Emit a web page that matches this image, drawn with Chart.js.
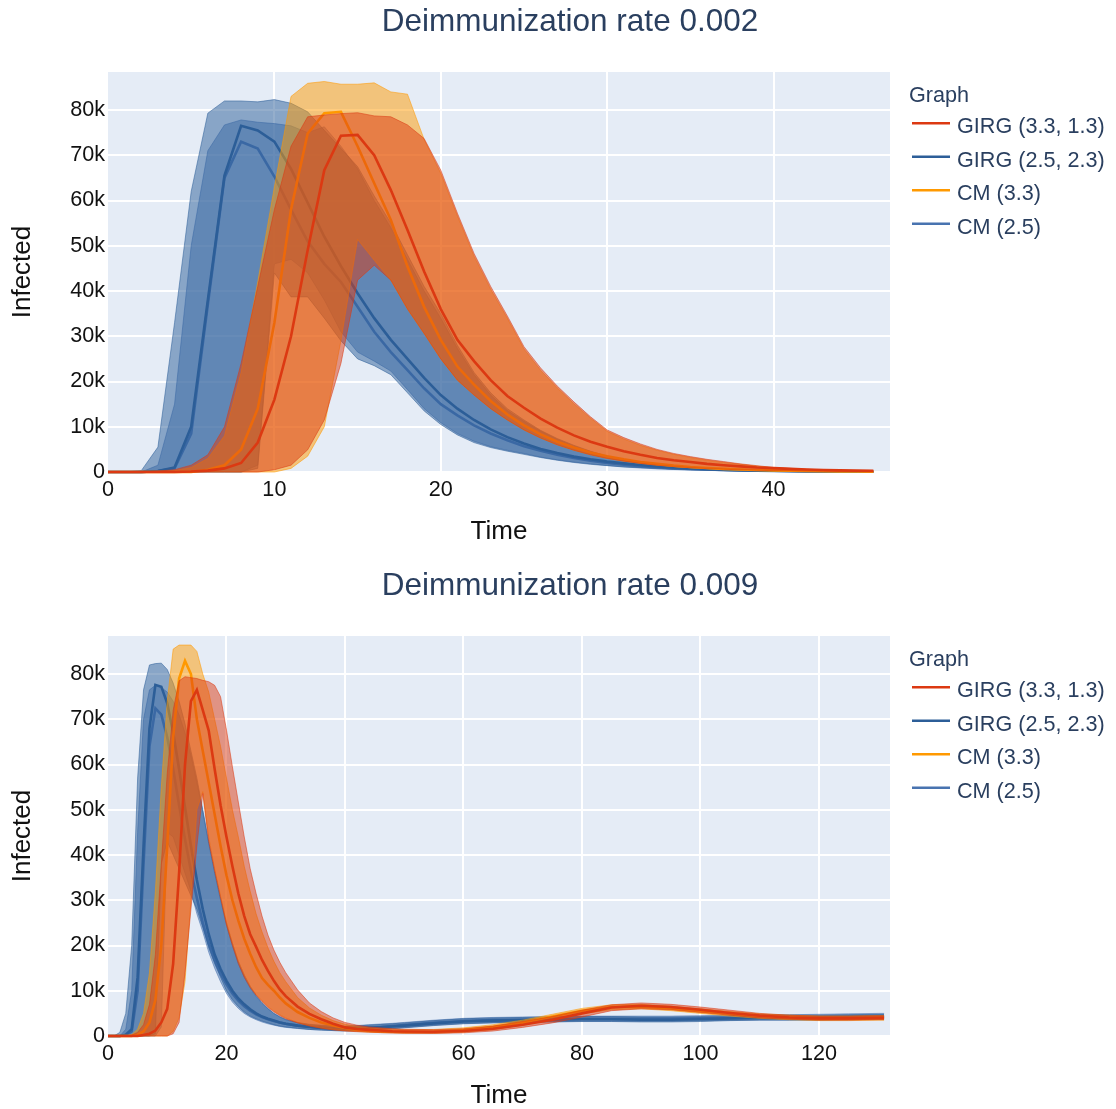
<!DOCTYPE html>
<html><head><meta charset="utf-8">
<script src="https://cdn.jsdelivr.net/npm/chart.js@4.4.0/dist/chart.umd.min.js"></script>
<style>
html,body{margin:0;padding:0;background:#fff;overflow:hidden;width:1116px;height:1109px;}
canvas{position:absolute;left:0;}
#c1{top:0;} #c2{top:564px;}
</style></head><body>
<canvas id="c1" width="1116" height="547"></canvas>
<canvas id="c2" width="1116" height="547"></canvas>
<script>
// ---------- labels ----------
const titles = ['Deimmunization rate 0.002', 'Deimmunization rate 0.009'];
const legendTitle = 'Graph';
const seriesNames = ['GIRG (3.3, 1.3)', 'GIRG (2.5, 2.3)', 'CM (3.3)', 'CM (2.5)'];
const xTitle = 'Time';
const yTitle = 'Infected';
const yTicks = [0, 10, 20, 30, 40, 50, 60, 70, 80];
const xTicksA = [0, 10, 20, 30, 40];
const xTicksB = [0, 20, 40, 60, 80, 100, 120];

// ---------- data: rate 0.002 (values in thousands) ----------
const timeA = [0,1,2,3,4,5,6,7,8,9,10,11,12,13,14,15,16,17,18,19,20,21,22,23,24,25,26,27,28,29,30,31,32,33,34,35,36,37,38,39,40,41,42,43,44,45,46];
const girg33MedA = [0,0,0,0,0,0.1,0.3,0.8,2,6.5,16,30,49,66.7,74.3,74.5,70,62.3,53.5,44.3,36,29.2,24.5,20.3,16.8,14.2,11.8,9.8,8.1,6.7,5.6,4.6,3.8,3.1,2.6,2.2,1.8,1.5,1.25,1,0.85,0.7,0.55,0.45,0.35,0.3,0.25];
const girg33HiA  = [0,0,0,0.2,0.5,1.5,3.8,10,24,41,58,72,78.5,78.9,79.2,79.4,78.7,78.5,76.7,73.7,66.7,57.2,48.3,41,34.5,27.7,23,19,15.5,12.2,9.3,7.6,6.2,5,4.1,3.4,2.8,2.3,1.8,1.4,1,0.8,0.6,0.5,0.4,0.3,0.25];
const girg33LoA  = [0,0,0,0,0,0,0,0,0,0,0.5,1.5,4.9,11.5,24,42.4,45.7,42.4,36,30.6,25,20.3,17,14,11.5,9.3,7.5,6,4.8,3.8,3,2.4,1.9,1.5,1.2,0.95,0.75,0.6,0.48,0.38,0.3,0.24,0.19,0.15,0.12,0.1,0.08];
const girg25MedA = [0,0,0,0.2,1,10,38,65.5,76.5,75.5,73,67,59.5,52,45.5,39.5,34,29.2,25,20.8,17,14,11.5,9.4,7.7,6.3,5.1,4.2,3.4,2.8,2.3,1.9,1.55,1.25,1,0.8,0.65,0.52,0.42,0.34,0.27,0.22,0.18,0.14,0.11,0.09,0.07];
const girg25HiA  = [0,0,0.3,5.5,33,62,79.3,82,82,81.8,82.3,81.5,79.6,75.5,71.5,67.5,61,55,48,41,35,28,22,17.5,14,11.5,9.2,7.4,5.9,4.6,3.5,2.7,2.1,1.6,1.2,0.9,0.7,0.55,0.42,0.33,0.26,0.2,0.16,0.13,0.1,0.08,0.06];
const girg25LoA  = [0,0,0,0,0,0,0,0,0,0.8,44,38.7,38.7,34,29,25,23.5,21.5,17.5,13.5,10.5,8.2,6.5,5.4,4.6,3.9,3.2,2.6,2.1,1.7,1.4,1.1,0.9,0.7,0.55,0.45,0.35,0.28,0.22,0.17,0.13,0.1,0.08,0.06,0.05,0.04,0.03];
const cm33MedA   = [0,0,0,0,0,0,0.5,1.5,5,14,33,58,74.8,79.3,79.6,72,63.8,55.7,45.4,36.5,29.2,23.3,19.3,15.7,12.7,10.3,8.3,6.7,5.4,4.3,3.5,2.8,2.2,1.8,1.4,1.1,0.9,0.7,0.55,0.45,0.35,0.28,0.22,0.17,0.13,0.1,0.08];
const cm33HiA    = [0,0,0,0,0.3,1,3,8,22,42,63,83,85.9,86.3,85.7,85.7,86,84,83.5,73.5,66,56.6,47.7,40.4,34,27.2,22.5,18.6,15.1,11.9,9,7.3,5.9,4.8,3.9,3.2,2.6,2.1,1.7,1.3,0.95,0.75,0.58,0.46,0.36,0.28,0.22];
const cm33LoA    = [0,0,0,0,0,0,0,0,0,0,0,0.8,3.5,10,29,51.4,46.8,42.4,36,30.6,25,20.3,17,14,11.5,9.3,7.5,6,4.8,3.8,3,2.4,1.9,1.5,1.2,0.95,0.75,0.6,0.48,0.38,0.3,0.24,0.19,0.15,0.12,0.1,0.08];
const cm25MedA   = [0,0,0,0.2,0.8,8.5,37,65,73,71.5,65.3,58,51,46,42,36.5,31,26.5,22.5,18.5,15,12.5,10.3,8.5,7,5.7,4.7,3.8,3.1,2.5,2,1.6,1.3,1.05,0.85,0.68,0.54,0.43,0.34,0.27,0.21,0.17,0.13,0.1,0.08,0.06,0.05];
const cm25HiA    = [0,0,0,1.5,15,50,71,76.7,77.8,77.3,77,76.5,75,76.3,72,67,60,54,47,40,34,27.3,21.5,17,13.6,11.2,9,7.2,5.7,4.5,3.4,2.6,2,1.55,1.15,0.88,0.68,0.53,0.4,0.32,0.25,0.19,0.15,0.12,0.1,0.08,0.06];
const cm25LoA    = [0,0,0,0,0,0,0,0,0,1.5,46,47,44,38,31,26.5,24.5,22.3,18.2,14,10.9,8.5,6.8,5.6,4.8,4.1,3.3,2.7,2.2,1.8,1.45,1.15,0.95,0.75,0.58,0.47,0.37,0.29,0.23,0.18,0.14,0.11,0.08,0.06,0.05,0.04,0.03];

// ---------- data: rate 0.009 (values in thousands) ----------
const timeB = [0,1,2,3,4,5,6,7,8,9,10,11,12,13,14,15,16,17,18,19,20,21,22,23,24,25,26,27,28,29,30,32,34,36,38,40,42,44,46,48,50,55,60,65,70,75,80,85,90,95,100,105,110,115,120,125,130,131];
const girg33MedB = [0,0,0,0,0,0,0.2,0.5,1.2,3,6,16,36,60,74,76.5,72,67.5,59,51,44,37.5,31.5,26.5,22.5,19.7,16.8,14.4,12.2,10.3,8.8,6.5,4.9,3.7,2.7,1.9,1.55,1.35,1.2,1.05,1,0.95,1.1,1.6,2.5,3.6,5,6.3,6.7,6.4,5.8,5.1,4.5,4.1,3.9,3.9,4,4];
const girg33HiB  = [0,0,0,0,0.2,0.8,2.5,7,18,38,58,72,78.5,79.4,79.2,79,78.6,78.3,77.5,75,67.6,59.5,51.7,44,37,31.5,26.5,22.3,19,16.3,14,10.2,7.3,5.4,4,3,2.4,2,1.8,1.6,1.5,1.4,1.6,2.2,3.2,4.3,5.7,6.9,7.3,7,6.4,5.7,5,4.6,4.4,4.4,4.5,4.5];
const girg33LoB  = [0,0,0,0,0,0,0,0,0,0,0,0.5,3,14,28,42,53.6,43,36.5,30.5,24.5,20,16,13,10.7,9,7.6,6.3,5.3,4.5,3.8,2.9,2.2,1.7,1.35,1.1,0.95,0.85,0.75,0.65,0.6,0.55,0.7,1.1,1.9,2.9,4.2,5.6,6,5.8,5.2,4.6,4,3.7,3.5,3.5,3.6,3.6];
const girg25MedB = [0,0,0,0.3,1.5,13,42,68,77.6,77.2,73.5,67,59,50.5,42,34.5,28,22.5,18,14.8,12.2,10,8.3,7,5.9,5,4.3,3.8,3.4,3,2.7,2.3,2,1.8,1.65,1.5,1.6,1.8,1.95,2.1,2.3,2.8,3.2,3.4,3.5,3.6,3.7,3.7,3.6,3.6,3.7,3.9,4,4,4,4.1,4.2,4.2];
const girg25HiB  = [0,0,0.8,5,20,57,76.5,82,82.3,82.4,81,78,74,69,63,57,50,43,36.5,30.5,25,20.5,16.5,13.5,11,9,7.4,6.1,5,4.2,3.6,2.9,2.5,2.3,2.2,2.1,2.2,2.4,2.55,2.7,2.9,3.4,3.8,4,4.1,4.2,4.3,4.3,4.2,4.2,4.3,4.5,4.6,4.6,4.6,4.7,4.8,4.8];
const girg25LoB  = [0,0,0,0,0,0,0,0,0.5,38,43,40,37,34,31,28,24,19.5,16,13,10,8,6.5,5.3,4.4,3.8,3.3,2.9,2.5,2.2,2,1.7,1.45,1.3,1.2,1.1,1.15,1.3,1.45,1.6,1.8,2.3,2.7,2.9,3,3.1,3.2,3.2,3.1,3.1,3.2,3.4,3.5,3.5,3.5,3.6,3.7,3.7];
const cm33MedB   = [0,0,0,0,0,0.3,1,3,8,20,42,66,79,82.9,80,70,63,56,49,42,35.5,30,25.5,21.5,18.2,15.2,12.8,11.3,10,8.5,7.2,5.3,4,3,2.3,1.8,1.4,1.15,1,0.95,0.9,0.95,1.3,2,3,4.3,5.6,6.4,6.5,6.1,5.5,4.9,4.4,4.1,3.9,3.9,4,4];
const cm33HiB    = [0,0,0,0,0.3,1.5,5,14,32,55,74,85.5,86.4,86.4,86.4,85,80,76,70,64,57,50,44,37.5,32,27,23,19.5,16.5,14,12,8.5,6.2,4.6,3.4,2.6,2.1,1.8,1.6,1.5,1.4,1.45,1.8,2.5,3.5,4.8,6.1,6.9,7,6.6,6,5.4,4.9,4.6,4.4,4.4,4.5,4.5];
const cm33LoB    = [0,0,0,0,0,0,0,0,0,0,0,1,4,12,30,50,54,44,37,31,25,20.5,16.5,13.5,11,9.2,7.8,6.5,5.5,4.7,4,3,2.3,1.8,1.45,1.2,1,0.85,0.75,0.7,0.65,0.6,0.85,1.4,2.4,3.6,4.9,5.8,6,5.6,5,4.4,3.9,3.6,3.4,3.4,3.5,3.5];
const cm25MedB   = [0,0,0,0.2,1,10,38,64,72.4,71,66,59,51,43.5,36.5,30.5,25,20.5,16.8,13.8,11.4,9.4,7.8,6.6,5.6,4.8,4.2,3.7,3.3,3,2.7,2.3,2.05,1.85,1.7,1.6,1.7,1.85,2,2.2,2.4,2.9,3.3,3.5,3.6,3.7,3.8,3.8,3.8,3.8,3.9,4,4.1,4.1,4.2,4.3,4.4,4.4];
const cm25HiB    = [0,0,0,1.5,10,45,70,76.5,77.5,77,76,74,71,67,62,56,49.5,42.5,36,30,24.5,20,16,13,10.6,8.7,7.2,6,5,4.3,3.7,3,2.6,2.4,2.3,2.2,2.3,2.5,2.65,2.8,3,3.5,3.9,4.1,4.2,4.3,4.4,4.4,4.4,4.4,4.5,4.6,4.7,4.7,4.8,4.9,5,5];
const cm25LoB    = [0,0,0,0,0,0,0,0,0,2,45,44,40,36,32,27,23,18.5,15,12,9.4,7.5,6.1,5,4.2,3.6,3.1,2.7,2.4,2.1,1.9,1.65,1.45,1.3,1.2,1.15,1.2,1.35,1.5,1.65,1.85,2.35,2.75,2.95,3.05,3.15,3.25,3.25,3.25,3.25,3.35,3.45,3.55,3.55,3.65,3.75,3.85,3.85];

// ---------- styling ----------
const FONT = '"Liberation Sans", Arial, Helvetica, sans-serif';
const TXT = '#2a3f5f';
const RGB = ['220,57,18', '44,94,152', '255,153,0', '72,115,176'];

function pts(t, v) { return t.map((x, i) => ({x: x, y: v[i]})); }

// Chart.js paints the first dataset last (on top), so each series is given as
// [median, upper (filled down to the next dataset), lower].
function seriesSets(time, k, lo, hi, med) {
  const common = {pointRadius: 0, pointHoverRadius: 0, tension: 0, clip: {left: 2, top: 2, right: 2, bottom: 4}};
  return [
    Object.assign({label: seriesNames[k], data: pts(time, med), borderColor: 'rgb(' + RGB[k] + ')', borderWidth: 2.6, fill: false}, common),
    Object.assign({label: seriesNames[k] + ' hi', data: pts(time, hi), borderColor: 'rgba(' + RGB[k] + ',0.6)', borderWidth: 0.9, fill: '+1', backgroundColor: 'rgba(' + RGB[k] + ',0.5)'}, common),
    Object.assign({label: seriesNames[k] + ' lo', data: pts(time, lo), borderColor: 'rgba(' + RGB[k] + ',0.6)', borderWidth: 0.9, fill: false}, common)
  ];
}

const overlay = {
  id: 'overlay',
  beforeDraw(chart) {
    const a = chart.chartArea, ctx = chart.ctx;
    ctx.save();
    ctx.fillStyle = '#E5ECF6';
    ctx.fillRect(a.left, a.top, a.right - a.left, a.bottom - a.top);
    ctx.restore();
  },
  afterDraw(chart, args, opts) {
    const ctx = chart.ctx;
    ctx.save();
    ctx.fillStyle = TXT;
    ctx.textBaseline = 'alphabetic';
    ctx.font = '31.5px ' + FONT;
    ctx.textAlign = 'center';
    ctx.fillText(opts.title, 570, 31);
    ctx.textAlign = 'left';
    ctx.font = '21.6px ' + FONT;
    ctx.fillText(legendTitle, 909, 101.5);
    for (let i = 0; i < 4; i++) {
      const y = 133.3 + i * 33.5;
      ctx.strokeStyle = 'rgb(' + RGB[i] + ')';
      ctx.lineWidth = 2.6;
      ctx.beginPath();
      ctx.moveTo(912, y - 10);
      ctx.lineTo(950, y - 10);
      ctx.stroke();
      ctx.fillText(seriesNames[i], 957, y);
    }
    ctx.restore();
  }
};

function makeChart(id, title, time, xmax, xticks, d) {
  // top-most first: GIRG (3.3,1.3), CM (3.3), GIRG (2.5,2.3), CM (2.5)
  const datasets = [].concat(
    seriesSets(time, 0, d.girg33Lo, d.girg33Hi, d.girg33Med),
    seriesSets(time, 2, d.cm33Lo, d.cm33Hi, d.cm33Med),
    seriesSets(time, 1, d.girg25Lo, d.girg25Hi, d.girg25Med),
    seriesSets(time, 3, d.cm25Lo, d.cm25Hi, d.cm25Med)
  );
  return new Chart(document.getElementById(id), {
    type: 'line',
    data: {datasets: datasets},
    plugins: [overlay],
    options: {
      responsive: false,
      animation: false,
      devicePixelRatio: 1,
      layout: {padding: {left: 0, right: 226, top: 72, bottom: 0}},
      plugins: {
        legend: {display: false},
        title: {display: false},
        tooltip: {enabled: false},
        overlay: {title: title}
      },
      scales: {
        x: {
          type: 'linear', min: 0, max: xmax,
          afterBuildTicks: (s) => { s.ticks = xticks.map(v => ({value: v})); },
          afterFit: (s) => { s.height = 75; },
          grid: {color: (c) => (c.tick && c.tick.value === 0) ? 'rgba(0,0,0,0)' : '#ffffff', lineWidth: 2, drawTicks: false},
          border: {display: false},
          ticks: {padding: 5, color: '#111', font: {family: FONT, size: 21.6}, maxRotation: 0, autoSkip: false},
          title: {display: true, text: xTitle, color: '#111', font: {family: FONT, size: 26}, padding: {top: 0, bottom: 0}}
        },
        y: {
          type: 'linear', min: 0, max: 88.4,
          afterBuildTicks: (s) => { s.ticks = yTicks.map(v => ({value: v})); },
          afterFit: (s) => { s.width = 108; },
          grid: {color: '#ffffff', lineWidth: 2, drawTicks: false},
          border: {display: false},
          ticks: {padding: 3, color: '#111', font: {family: FONT, size: 21.6}, callback: (v) => v === 0 ? '0' : v + 'k'},
          title: {display: true, text: yTitle, color: '#111', font: {family: FONT, size: 26}, padding: {top: 7, bottom: 0}}
        }
      }
    }
  });
}

makeChart('c1', titles[0], timeA, 47, xTicksA, {
  girg33Med: girg33MedA, girg33Hi: girg33HiA, girg33Lo: girg33LoA,
  girg25Med: girg25MedA, girg25Hi: girg25HiA, girg25Lo: girg25LoA,
  cm33Med: cm33MedA, cm33Hi: cm33HiA, cm33Lo: cm33LoA,
  cm25Med: cm25MedA, cm25Hi: cm25HiA, cm25Lo: cm25LoA
});
makeChart('c2', titles[1], timeB, 132, xTicksB, {
  girg33Med: girg33MedB, girg33Hi: girg33HiB, girg33Lo: girg33LoB,
  girg25Med: girg25MedB, girg25Hi: girg25HiB, girg25Lo: girg25LoB,
  cm33Med: cm33MedB, cm33Hi: cm33HiB, cm33Lo: cm33LoB,
  cm25Med: cm25MedB, cm25Hi: cm25HiB, cm25Lo: cm25LoB
});
</script>
</body></html>
